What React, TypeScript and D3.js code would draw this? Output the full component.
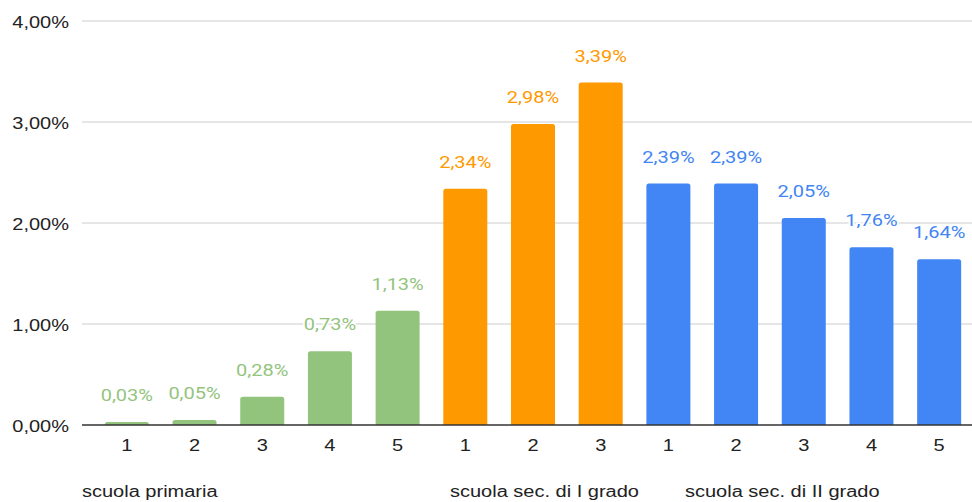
import * as d3 from 'd3';

// Values in percent, one array per school level
const primaria = [0.03, 0.05, 0.28, 0.73, 1.13];
const secPrimo = [2.34, 2.98, 3.39];
const secSecondo = [2.39, 2.39, 2.05, 1.76, 1.64];

const groupNames = ['scuola primaria', 'scuola sec. di I grado', 'scuola sec. di II grado'];
const groupColors = ['#93c47d', '#ff9900', '#4285f4'];
const yTicks = [0, 1, 2, 3, 4];

// where the group captions start
const groupLabelX = [82, 450, 685];

const width = 972;
const height = 502;
const margin = { top: 21, right: 0, bottom: 77, left: 93 };

// the source image is stretched sideways, so the glyphs are too
const stretch = 1.25;
const axisFont = 'Liberation Sans, Arial, sans-serif';

const fmt = (v: number) => v.toFixed(2).replace('.', ',') + '%';

function Label(props: {
  x: number;
  y: number;
  anchor?: 'start' | 'middle' | 'end';
  font?: string;
  fill?: string;
  halo?: boolean;
  children: string;
}) {
  const { x, y, anchor = 'start', font = axisFont, fill = '#222', halo, children } = props;
  return (
    <text
      transform={`translate(${x},${y}) scale(${stretch},1)`}
      textAnchor={anchor}
      fontFamily={font}
      fontSize={16}
      fill={fill}
      stroke={halo ? '#fff' : undefined}
      strokeWidth={halo ? 3 : undefined}
      paintOrder="stroke"
    >
      {children}
    </text>
  );
}

export default function App() {
  const groups = [primaria, secPrimo, secSecondo];
  const bars = groups.flatMap((vals, gi) =>
    vals.map((v, i) => ({ key: `${gi}-${i}`, group: gi, label: String(i + 1), value: v })),
  );

  const x = d3
    .scaleBand<string>()
    .domain(bars.map((b) => b.key))
    .range([margin.left, width + 1])
    .paddingInner(0.35)
    .paddingOuter(0.175);

  const y = d3
    .scaleLinear()
    .domain([0, 4])
    .range([height - margin.bottom, margin.top]);

  const axisLeft = 82;
  const base = y(0);

  return (
    <svg
      width={width}
      height={height}
      style={{ position: 'absolute', left: 0, top: 0, background: '#fff' }}
    >
      {/* grid */}
      {yTicks.map((t) => (
        <g key={t}>
          {t > 0 && (
            <line x1={axisLeft} x2={width} y1={y(t)} y2={y(t)} stroke="#cccccc" strokeWidth={1} />
          )}
          <Label x={69} y={y(t) + 6.5} anchor="end">
            {fmt(t)}
          </Label>
        </g>
      ))}

      {/* bars */}
      {bars.map((b) => {
        const bx = x(b.key)!;
        const bw = x.bandwidth();
        const top = y(b.value);
        const h = base - top;
        const r = Math.min(2.5, h);
        const d = `M${bx},${base}V${top + r}Q${bx},${top} ${bx + r},${top}H${bx + bw - r}Q${bx + bw},${top} ${bx + bw},${top + r}V${base}Z`;
        return <path key={b.key} d={d} fill={groupColors[b.group]} />;
      })}

      {/* value labels */}
      {bars.map((b) => (
        <Label
          key={b.key}
          x={x(b.key)! + x.bandwidth() / 2}
          y={y(b.value) - 21}
          anchor="middle"
          font="Roboto, sans-serif"
          fill={groupColors[b.group]}
          halo
        >
          {fmt(b.value)}
        </Label>
      ))}

      {/* baseline */}
      <line x1={axisLeft} x2={width} y1={base} y2={base} stroke="#333" strokeWidth={1.3} />

      {/* category ticks */}
      {bars.map((b) => (
        <Label key={b.key} x={x(b.key)! + x.bandwidth() / 2} y={base + 26} anchor="middle">
          {b.label}
        </Label>
      ))}

      {/* group captions */}
      {groupNames.map((n, i) => (
        <Label key={n} x={groupLabelX[i]} y={base + 72}>
          {n}
        </Label>
      ))}
    </svg>
  );
}
